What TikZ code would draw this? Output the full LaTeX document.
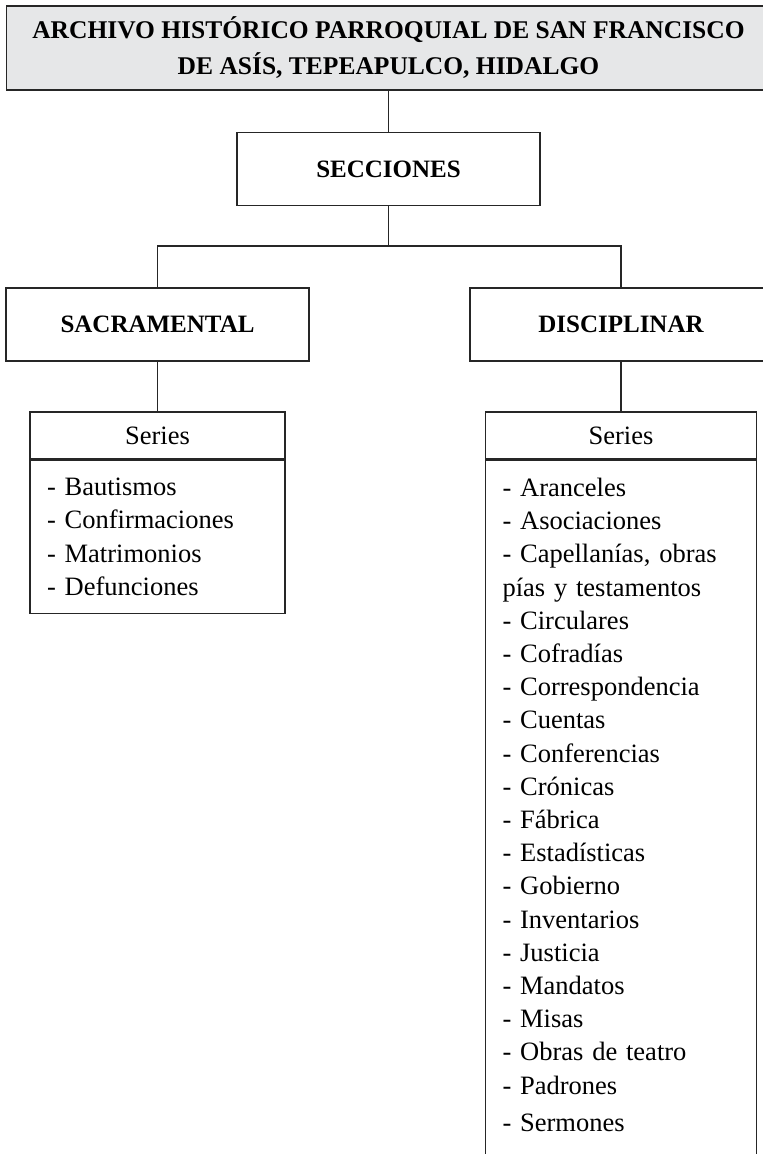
\documentclass[tikz,border=0pt]{standalone}
\usepackage{
    fontspec,
    tikz
}
\setmainfont{Liberation Serif}
\usetikzlibrary{positioning}
\definecolor{grisclaro}{RGB}{230,231,232}

\begin{document}
\begin{tikzpicture}[x=1pt, y=-1pt,
    caja/.style={draw=black!85, line width=1.1pt, inner sep=0pt, align=center},
    titulo/.style={caja, fill=grisclaro, font=\bfseries\fontsize{25.5}{36}\selectfont},
    seccion/.style={caja, minimum height=73pt, font=\bfseries\fontsize{25}{30}\selectfont},
    encabezado/.style={caja, minimum height=47pt, font=\fontsize{26.5}{33}\selectfont},
    lista/.style={caja, align=left, inner xsep=17pt, inner ysep=18pt, font=\fontsize{26.5}{33.2}\selectfont},
    rama/.style={draw=black!85, line width=1.1pt}
]
    \clip (0,0) rectangle (763,1154);

    \node[titulo, minimum width=764pt, minimum height=84pt] (archivo) at (388.5,48) {ARCHIVO HISTÓRICO PARROQUIAL DE SAN FRANCISCO\\DE ASÍS, TEPEAPULCO, HIDALGO};
    \node[seccion, minimum width=303pt] (secciones) at (388.5,169) {SECCIONES};
    \node[seccion, minimum width=303pt] (sacramental) at (157.5,324.5) {SACRAMENTAL};
    \node[seccion, minimum width=302pt] (disciplinar) at (621,324.5) {DISCIPLINAR};

    \node[encabezado, minimum width=255pt] (serieSac) at (157.5,435.5) {Series};
    \node[encabezado, minimum width=271pt] (serieDis) at (621,435.5) {Series};

    \node[lista, text width=221pt, below=0pt of serieSac] (listaSac) {- Bautismos\\- Confirmaciones\\- Matrimonios\\- Defunciones};
    \node[lista, text width=237pt, text depth=700pt, below=0pt of serieDis] (listaDis) {- Aranceles\\- Asociaciones\\- Capellanías, obras\\pías y testamentos\\- Circulares\\- Cofradías\\- Correspondencia\\- Cuentas\\- Conferencias\\- Crónicas\\- Fábrica\\- Estadísticas\\- Gobierno\\- Inventarios\\- Justicia\\- Mandatos\\- Misas\\- Obras de teatro\\- Padrones\\[4pt]- Sermones};

    \coordinate (cruce) at (388.5,246);
    \draw[rama] (archivo) -- (secciones);
    \draw[rama] (secciones) -- (cruce);
    \draw[rama] (cruce) -| (sacramental);
    \draw[rama] (cruce) -| (disciplinar);
    \draw[rama] (sacramental) -- (serieSac);
    \draw[rama] (disciplinar) -- (serieDis);
\end{tikzpicture}
\end{document}
